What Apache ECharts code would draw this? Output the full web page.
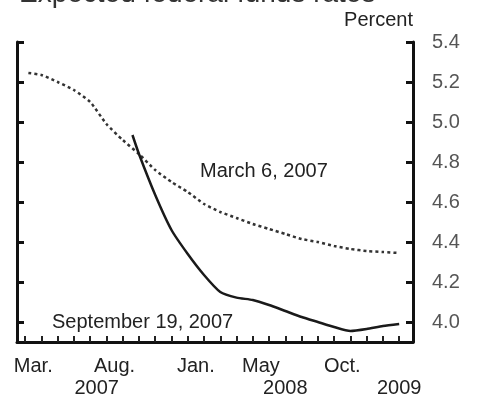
<!DOCTYPE html>
<html>
<head>
<meta charset="utf-8">
<script src="https://cdn.jsdelivr.net/npm/echarts@6/dist/echarts.min.js"></script>
<style>
html,body{margin:0;padding:0;background:#fff;}
#chart{width:480px;height:408px;}
</style>
</head>
<body>
<div id="chart"></div>
<script>
// ---- data (x = months after the start of March 2007) ----
const marchX = [0.2, 1, 2, 3, 4, 5, 6, 7, 8, 9, 10, 11, 12, 13, 14, 15, 16, 17, 18, 19, 20, 21, 22, 23];
const marchY = [5.245, 5.235, 5.20, 5.16, 5.10, 4.99, 4.91, 4.84, 4.76, 4.70, 4.65, 4.59, 4.55, 4.52, 4.49, 4.465, 4.44, 4.415, 4.40, 4.38, 4.365, 4.355, 4.35, 4.345];
const septX = [6.6, 7, 8, 9, 10, 11, 12, 13, 14, 15, 16, 17, 18, 19, 20, 21, 22, 23];
const septY = [4.935, 4.84, 4.635, 4.46, 4.34, 4.235, 4.15, 4.122, 4.11, 4.085, 4.055, 4.025, 4.0, 3.975, 3.955, 3.965, 3.98, 3.99];
const monthTickPos = [0,1,2,3,4,5,6,7,8,9,10,11,12,13,14,15,16,17,18,19,20,21,22,23];
const monthLabelPos = [0.5, 5.5, 10.5, 14.5, 19.5];
const monthLabels = ['Mar.', 'Aug.', 'Jan.', 'May', 'Oct.'];
const yearLabelPos = [4.4, 16, 23];
const yearLabels = ['2007', '2008', '2009'];
const yTicks = [4.0, 4.2, 4.4, 4.6, 4.8, 5.0, 5.2, 5.4];
const seriesNames = ['March 6, 2007', 'September 19, 2007'];
const titleText = 'Expected federal funds rates';

const FONT = 'Liberation Sans, Arial, Helvetica, sans-serif';
const chart = echarts.init(document.getElementById('chart'), null, {renderer: 'canvas'});

function pairs(xs, ys) { return xs.map((x, i) => [x, ys[i]]); }
function lookup(pos, labels) {
  return v => {
    for (let i = 0; i < pos.length; i++) if (Math.abs(pos[i] - v) < 1e-6) return labels[i];
    return '';
  };
}

const option = {
  backgroundColor: '#ffffff',
  animation: false,
  grid: {left: 17, right: 67, top: 42, bottom: 66, containLabel: false},
  xAxis: [
    {
      type: 'value', min: -0.5, max: 23.85, position: 'bottom',
      splitLine: {show: false},
      axisLine: {show: true, onZero: false, lineStyle: {color: '#111', width: 3}},
      axisTick: {show: true, inside: true, length: 6, customValues: monthTickPos, lineStyle: {color: '#222', width: 2}},
      axisLabel: {show: true, customValues: monthLabelPos, formatter: lookup(monthLabelPos, monthLabels),
        margin: 14, color: '#222', fontFamily: FONT, fontSize: 20}
    },
    {
      type: 'value', min: -0.5, max: 23.85, position: 'bottom', offset: 22,
      splitLine: {show: false},
      axisLine: {show: false},
      axisTick: {show: false},
      axisLabel: {show: true, customValues: yearLabelPos, formatter: lookup(yearLabelPos, yearLabels),
        margin: 14, color: '#222', fontFamily: FONT, fontSize: 20}
    }
  ],
  yAxis: [
    {
      type: 'value', min: 3.9, max: 5.4, position: 'right',
      splitLine: {show: false},
      axisLine: {show: true, onZero: false, lineStyle: {color: '#111', width: 3}},
      axisTick: {show: true, inside: true, length: 7, customValues: yTicks, lineStyle: {color: '#111', width: 3}},
      axisLabel: {show: true, customValues: yTicks, formatter: v => v.toFixed(1),
        margin: 19, color: '#555', fontFamily: FONT, fontSize: 20}
    },
    {
      type: 'value', min: 3.9, max: 5.4, position: 'left',
      splitLine: {show: false},
      axisLine: {show: true, onZero: false, lineStyle: {color: '#111', width: 3}},
      axisTick: {show: true, inside: true, length: 7, customValues: yTicks, lineStyle: {color: '#111', width: 3}},
      axisLabel: {show: false}
    }
  ],
  series: [
    {
      name: seriesNames[0], type: 'line', xAxisIndex: 0, yAxisIndex: 0,
      data: pairs(marchX, marchY), showSymbol: false, smooth: 0.2,
      lineStyle: {color: '#333', width: 2.5, type: [3, 3]}
    },
    {
      name: seriesNames[1], type: 'line', xAxisIndex: 0, yAxisIndex: 0,
      data: pairs(septX, septY), showSymbol: false, smooth: 0.2,
      lineStyle: {color: '#1a1a1a', width: 2.5}
    }
  ],
  graphic: [
    {type: 'text', x: 19, y: -6, style: {text: titleText, font: '28px ' + FONT, fill: '#333', verticalAlign: 'middle'}},
    {type: 'text', x: 413, y: 20, style: {text: 'Percent', font: '20px ' + FONT, fill: '#222', align: 'right', verticalAlign: 'middle'}},
    {type: 'text', x: 200, y: 171, style: {text: seriesNames[0], font: '20px ' + FONT, fill: '#222', verticalAlign: 'middle'}},
    {type: 'text', x: 52, y: 322, style: {text: seriesNames[1], font: '20px ' + FONT, fill: '#222', verticalAlign: 'middle'}}
  ]
};
chart.setOption(option);
</script>
</body>
</html>
